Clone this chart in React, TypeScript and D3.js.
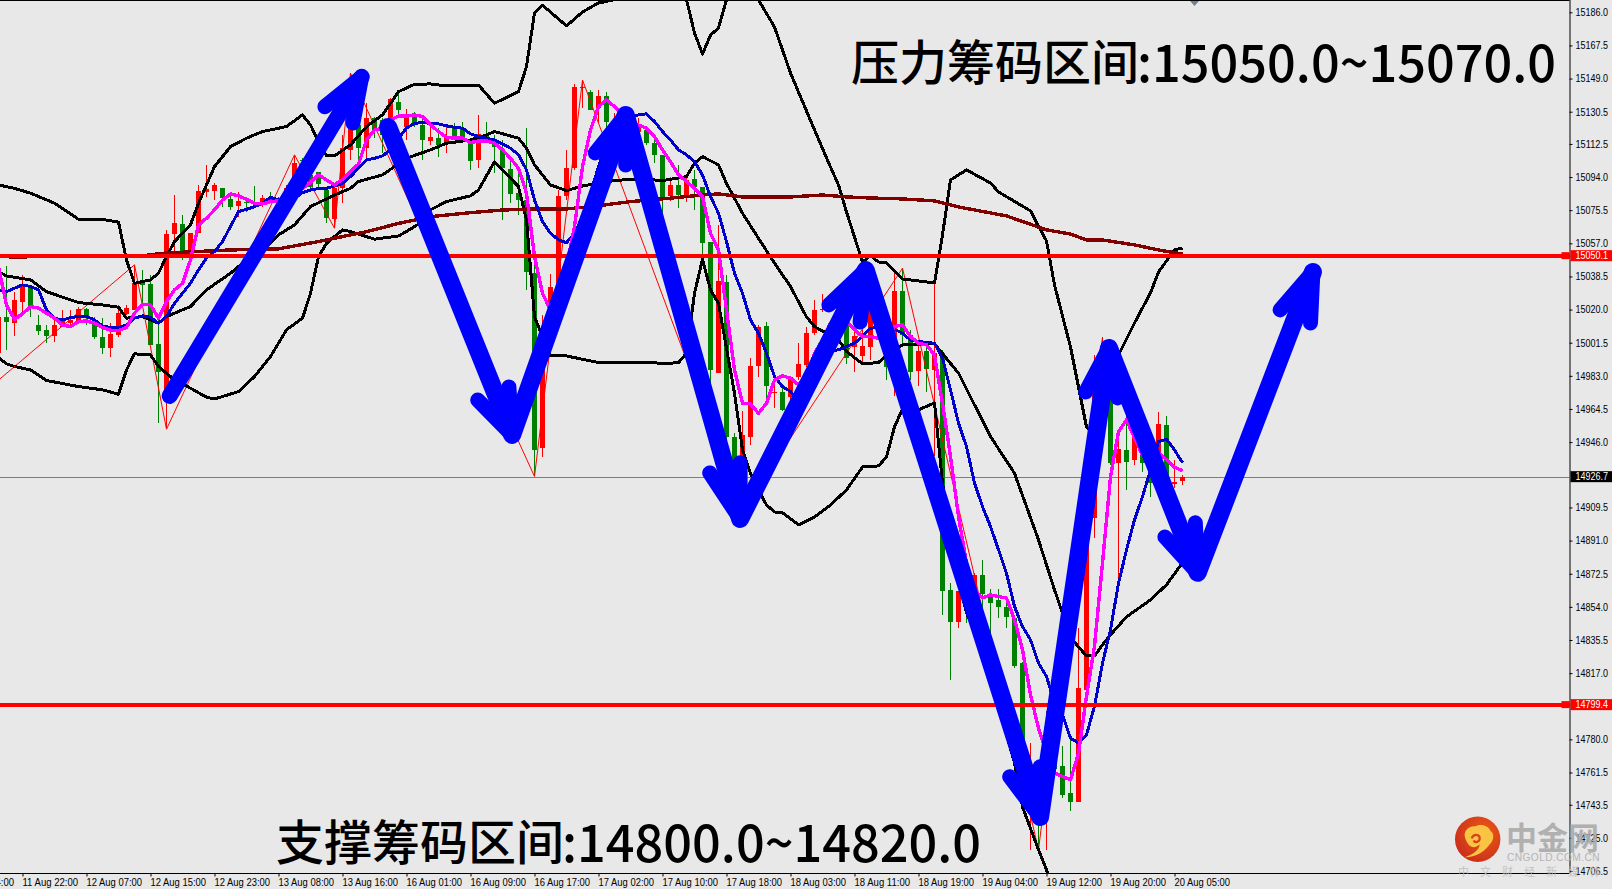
import { useEffect, useRef } from 'react';
import * as d3 from 'd3';

const WIDTH = 1612;
const HEIGHT = 889;
const PLOT_RIGHT = 1569.5;
const PLOT_BOTTOM = 873;

// candles, first one is bar -1 (half cut by the left edge)
const FIRST_BAR = -1;
const opens = [14995.5,
  15015.7,15012.4,15024.3,15032.5,15011.4,15008.7,15005.3,15010.5,15012.4,15013.3,
  15020.2,15013.3,15004.9,14998.4,15005.9,15017.6,15019.8,15035.6,15034.3,15000.8,
  14973.3,15062.3,15067.8,15051.8,15062.6,15085.9,15086.4,15087.7,15081.8,15077.9,
  15080.3,15080.3,15079.4,15082.7,15081.2,15080.3,15092.4,15103.6,15095.2,15097,
  15086.8,15070.4,15087.7,15109.2,15123.1,15110.1,15126.8,15125.9,15124,15136.1,
  15122.2,15128.7,15123.1,15114.2,15115.7,15112.9,15121.3,15121.3,15112.9,15103.6,
  15117.5,15114.7,15109.2,15098.4,15085.3,15081.2,15040.3,14942.6,14999.4,15032.9,
  15083.5,15098.9,15143.6,15141.4,15132.4,15139.3,15124,15124,15121,15119.4,
  15120.3,15112.9,15106.4,15083.5,15089.6,15084,15092.8,15088.7,15057.6,14984.8,
  15035.6,14949.1,14937.9,14949.1,14988.6,15010.9,14973.3,14974.2,14971.4,14982.6,
  14989.1,15006.8,15019.5,15019.8,15022.6,15012.4,14999,14994.2,14999,15019.8,
  15006.8,14987.3,15030.1,15005.9,14985.8,14997.1,14986.3,14995.6,14863.5,14845.3,
  14871.9,14859.8,14871.9,14860.7,14857.6,14853.8,14847.7,14822.6,14738.8,14761.2,
  14738.8,14773.3,14765.3,14750,14744.8,14807.7,14903.7,14977,14975,14934.2,
  14941.6,14936.1,14938.8,14935,14934.2,14955.6,14922.7,14924];
const closes = [15016,
  15013.1,15025.4,15034.3,15020.8,15008.3,15005.3,15011.4,15014.2,15014.2,15020.2,
  15015.2,15004.9,14998.4,15006.4,15018,15021.1,15034.7,15033.8,15000,14985.4,
  15062.3,15068.2,15052.4,15063,15086.3,15087.2,15089.6,15082.2,15077.5,15080.7,
  15079.8,15079.9,15082.2,15081.2,15077.5,15088.1,15101.7,15103,15088.7,15090.2,
  15071,15087.7,15110.1,15121.3,15110.1,15126.8,15120.3,15117.5,15137.4,15131.5,
  15127.4,15123.1,15114.7,15116.2,15112,15116.2,15116.2,15115.7,15103.2,15118.1,
  15114.7,15111,15098.9,15084.6,15081.2,15041.2,14941.7,15006.8,15032.5,15083.5,
  15098.9,15144.1,15144.1,15131.5,15139.3,15125,15126,15121,15117,15122.2,
  15112.9,15106.4,15083.1,15089.6,15084,15092.4,15088.3,15057.1,14986.3,15036.2,
  14949.1,14926.8,14950,14988.6,15010.5,14977.4,14974.2,14964,14982.6,14989.7,
  15006.8,15019.8,15020.2,15024.5,15015.7,14992.9,15005,14999.4,15025,15010.5,
  14987.8,15030.6,15005.9,14985.4,14996.6,14986.7,14995.6,14863.1,14845.3,14862.6,
  14852.3,14871.9,14861.3,14856.4,14853.8,14848.2,14821.1,14779.8,14751.8,14735.1,
  14786.8,14763.4,14749.1,14745.3,14808.6,14893.2,14980.7,14997.5,14934.2,14942.2,
  14935.1,14949.5,14934.2,14923,14956.2,14922,14923.6,14926.7];
const highs = [15018,
  15044.4,15030,15039.4,15032.5,15017,15011.4,15016.1,15019.8,15019.8,15021.7,
  15020.8,15016.1,15015.2,15012.4,15022.6,15022.6,15045,15042.2,15039.4,15016.1,
  15064.5,15084,15072.9,15063,15089.6,15100.8,15090.5,15087.7,15085,15085.9,
  15081.2,15089,15084,15085.9,15083.1,15089.6,15106.4,15104.5,15096.1,15097,
  15088.7,15087.7,15117.5,15152,15124,15135.2,15127.8,15126.8,15138,15140.8,
  15131.9,15130.6,15128.7,15124,15121.3,15122.2,15124,15125,15115.7,15128.7,
  15125,15117.5,15114.7,15103.6,15098,15121.3,15045.9,15017,15039.9,15086.8,
  15109.2,15146,15148.2,15142.6,15142.6,15141.7,15129.6,15127,15124,15127,
  15122.6,15117.5,15106.4,15094.3,15100.8,15094.3,15098,15088.7,15058,15067.3,
  15039.4,14951,14963.1,14992.8,15011.4,15013.3,14979.8,14976.1,14982.6,15001.2,
  15010.2,15025.4,15028.6,15027.3,15025.4,15014.3,15008.7,15011.5,15029.1,15023.6,
  15010.5,15042.5,15043.1,15008.7,15001.2,15001.2,15035.7,14997.5,14867.2,14862.6,
  14878,14873,14880.3,14863.9,14863.9,14858.9,14848.2,14823,14777.9,14765,
  14795.6,14779.8,14776.4,14781.6,14842.3,14895,14994.7,15004.6,14978,14952.8,
  14986.3,14955,14950,14945,14962.7,14960.6,14936.1,14927.7];
const lows = [14994,
  14997.5,15005.3,15018,15016.1,15005.9,15001.2,15002.1,15010.5,15010.5,15012.4,
  15011.4,15003.4,14995.3,14993.4,15004.9,15017,15019.8,15022.6,15000,14956.9,
  14953.2,15049.6,15047.7,15051.5,15062.6,15083.1,15081.2,15077.5,15075.7,15071.9,
  15074.7,15079.4,15077.5,15080.3,15076.6,15079.4,15090.5,15099.8,15087.7,15087.7,
  15068.2,15065.4,15079.4,15103.6,15103.6,15103.6,15115.7,15107.3,15107.3,15127.8,
  15114.7,15122.2,15103.6,15112,15105.4,15107.7,15114.7,15114.7,15098,15098.9,
  15112.9,15096.1,15070,15079.4,15072.9,15031,14926.8,14937.9,14998,15029.1,
  15081.2,15098,15132.4,15131.5,15124,15120.3,15123,15118,15113,15118,
  15112,15101.7,15066.4,15080.7,15076.6,15080.3,15075.7,15049.6,14977,14984.4,
  14943.5,14925,14907.6,14944.4,14982.6,14970.5,14964.9,14963.1,14967.7,14980.7,
  14988.2,15005.9,15018.9,15018.9,15014.3,14989.7,14985.4,14991,14991.9,15008.7,
  14980.8,14971.8,15001.2,14980.8,14977.4,14974.2,14938,14849.6,14813,14842.1,
  14845,14855,14846.8,14839.3,14847.7,14842.1,14819.8,14775,14718.4,14718.4,
  14718.4,14761.2,14747.2,14739.8,14744.8,14807,14892.5,14972,14933,14863.5,
  14919.3,14933.3,14929.5,14915.6,14928,14919.3,14920.6,14922];

// moving averages, one value per candle
const fastMa = [15044,
  15022.4,15014.6,15017.6,15021.7,15020.8,15018,15015.2,15011.4,15010.5,15013.3,
  15013.7,15012.4,15010,15008.5,15008.3,15010,15018,15023,15022.6,15015.2,
  15024.5,15031,15034.7,15047.7,15067.3,15071,15075.7,15081.2,15084.6,15083.5,
  15081.6,15079.4,15079,15080.3,15080.7,15083.1,15085.9,15087.7,15090.9,15095.2,
  15092.4,15089.6,15092.8,15097,15101.3,15114.7,15120.3,15121.3,15125.9,15128.1,
  15128.1,15128.7,15127.8,15123.1,15119.4,15116.2,15115.7,15115.7,15113.2,15114.2,
  15114.2,15112.9,15109.2,15104.5,15098.9,15085,15049.6,15029.1,15019.8,15029.1,
  15044,15066.4,15099.8,15120.3,15133.3,15137.1,15133.3,15128.7,15125,15123.1,
  15121.3,15116.6,15109.2,15102.6,15095.2,15091.5,15087.7,15083.1,15062.6,15053.3,
  15019.8,14986.3,14967.7,14967.3,14962.1,14967.7,14980.7,14983,14981.7,14978,
  14982.6,14995.6,15003,15012.4,15015.2,15013.3,15008.7,15005,15005,15004,
  15003,15010.5,15011.5,15005,15001.2,15000.3,14994.7,14967.7,14938,14904.5,
  14878.4,14863.5,14858.9,14860.7,14859.8,14858.9,14846.8,14830,14804.9,14786.3,
  14772.3,14761.2,14759.3,14757.4,14772.3,14804,14832.2,14878.5,14926.6,14951.8,
  14958.4,14948.3,14938.8,14937,14940.1,14936.1,14932,14930];
const slowMa = [15031,
  15030,15031.9,15033.8,15032.9,15031,15019.8,15015.2,15014.2,15015.5,15016.1,
  15016.1,15014.2,15010.9,15010,15010,15011.4,15015.2,15016.5,15015.7,15012.4,
  15016.1,15023.5,15029.1,15034.7,15042.2,15048.7,15052.4,15058,15066.4,15074.7,
  15076,15077.5,15079.4,15082.7,15081.2,15080.3,15082.2,15085.3,15086.8,15087.6,
  15087.7,15089,15090.5,15094.3,15098.9,15103.6,15104.5,15105.8,15109.2,15115.7,
  15121.3,15124,15124.4,15124,15123.7,15122.6,15121.8,15121.3,15118.1,15116.6,
  15115.7,15114.7,15112.5,15110.1,15106.4,15098,15081.2,15069.1,15062.6,15058.9,
  15057.4,15062.6,15071.9,15085,15099.8,15112.9,15122.2,15127.8,15127.8,15128.7,
  15129.3,15125,15119.4,15114.7,15109.2,15106.4,15102.6,15095.2,15083.1,15073.8,
  15058,15040.3,15029.1,15014.2,15006.8,14995.6,14982.6,14977,14974.2,14969.6,
  14980.7,14986.3,14991.9,14997.1,14997.5,14999.4,15001.2,15005,15009.6,15010,
  15009.6,15009,15006.8,15003,15002.2,15001.6,15001.2,14992.9,14975.2,14956.6,
  14943.5,14923.1,14910,14898.9,14885.9,14872.8,14854.2,14843,14835.6,14822.6,
  14815.1,14800.2,14793.7,14780.7,14777.9,14782.6,14798.4,14822.6,14841.2,14867.2,
  14885.8,14902.6,14915.6,14930.5,14946.3,14947.6,14941.6,14934.5];
const longMaBars = [-1,1,17,20,28,34,39,45,49,53,58,62,66,70,74,78,83,87,89,92,98,102,105,108,112,116,119,125,130,133,135,137,141,144,147];
const longMa = [15049.6,15049.4,15050.1,15051.6,15053.3,15053.9,15058,15063.5,15068.1,15071.9,15074.1,15075.6,15076.2,15076.2,15078,15080.3,15082.2,15084,15084.6,15082.9,15082.9,15084,15082.9,15082.3,15081.8,15080.7,15077.3,15072.3,15064.5,15062.2,15058.9,15058.9,15056.1,15053.3,15051];

// bollinger bands
const upperBars = [-1,1,3,6,9,12,14,15,16,18,19,20,21,23,24,25,26,28,30,32,35,37,38,39,40,41,43,45,47,49,51,53,55,59,61,64,65,66,67,70,72,74,76,80,84,85,86,87,88,89,90,91,93,94,96,98,101,103,104,105,106,107,108,109,110,112,116,117,118,120,123,124,128,130,131,133,134,135,136,137,138,139,141,143,144,146,147];
const upperBand = [15089.6,15087.7,15085,15079.4,15070.4,15070.4,15068.8,15047.7,15034.7,15036.6,15040.3,15049.6,15058,15067.3,15079.4,15089.6,15099.8,15111,15115.7,15119.4,15122.2,15128.7,15123.1,15113.8,15105.8,15105.8,15112,15122.2,15128.7,15141.7,15145.8,15146,15144.9,15145.4,15135.2,15141.7,15155.7,15185.6,15190,15178.4,15186.2,15191.2,15193,15210,15210,15193,15174.5,15162.7,15173.3,15177.2,15192.9,15209.6,15204,15192.9,15177.8,15152.1,15120.3,15099.6,15089.6,15074.5,15060.5,15046.6,15050,15046.6,15046,15037.1,15034.9,15061.7,15092.4,15098,15090.7,15085.7,15075.1,15058.3,15033.8,14999.1,14976.8,14954.5,14951.1,14961.2,14977.9,14994.7,15012.5,15029.3,15041,15053.3,15054.4];
const midBars = [-1,0,3,5,9,12,14,15,17,19,20,23,25,28,29,33,34,36,38,41,43,44,47,50,53,55,58,60,61,64,65,66,68,70,72,75,78,80,82,85,86,87,89,90,92,94,96,98,100,101,104,105,107,109,110,112,116,119,123,126,129,131,133,134,135,136,137,138,140,143,145,147];
const midBand = [15041.2,15038.8,15036.6,15030,15023.9,15022.6,15021.3,15015.2,15016.1,15012.4,15016.1,15021.7,15031,15040.3,15044,15057,15061.7,15067.3,15077.5,15084,15087.7,15091.5,15095.2,15104.5,15109.2,15112.9,15114.7,15117.5,15119.4,15115.7,15110.1,15100.8,15089.6,15086.4,15089,15091.5,15092.8,15092.8,15092,15094.3,15101.7,15105.4,15100.8,15090.5,15073.8,15059.8,15045.9,15032.9,15015.9,15010.5,15003.1,14996.6,14989.7,14990.4,14994.7,15000.3,15000.9,14984.5,14949.1,14928.6,14891.4,14863.5,14837.5,14831.6,14826.6,14826.6,14832.8,14838.4,14848.4,14857.9,14866.3,14878.6];
const lowerBars = [-1,0,1,3,5,9,12,14,15,16,18,19,21,23,25,26,29,31,33,35,37,38,39,40,42,43,46,49,50,52,53,55,58,59,61,64,65,66,67,68,70,74,81,82,84,85,86,87,88,89,91,92,93,94,95,96,97,99,101,103,105,107,109,110,111,112,114,116,117,119,120,122,126,127,129,130,131];
const lowerBand = [14993.2,14989.7,14988.2,14986.3,14980.4,14977,14975.2,14972.7,14986.3,14995.3,14994.7,14988.2,14980.7,14976.1,14971.1,14970.1,14974.2,14982.6,14993.8,15008.7,15015.2,15029.1,15049.6,15057,15064.5,15063.6,15059.3,15061.1,15063.6,15069.1,15075.7,15080.3,15083.5,15086.8,15102.6,15088.7,15070.1,15016.1,15004.9,14994.1,14994.1,14990.4,14990.4,14989.7,14990.4,14995.6,15029.1,15048.1,15031,15023.5,14973.3,14941.7,14928.6,14919.3,14910.9,14907,14906.5,14899.8,14904.2,14910.9,14919.3,14932.1,14932.7,14937.7,14954.5,14964.5,14964,14967.9,14923.2,14869,14850.6,14829.9,14766.9,14742.3,14718.3,14707.2,14690.4];

// thin zigzag through the swing highs and lows
const zigzagBars = [-2,16,20,36,41,43,66,72,92,112,129,137];
const zigzagPrices = [14976.8,15045,14953.2,15106.4,15065.4,15152,14926.8,15148.2,14907.6,15043.1,14718.4,15004.6];

// hand drawn arrows: one single arrow, then the long chain
const firstArrowBars = [20.4,44.4];
const firstArrowPrices = [14971.8,15150];
const firstArrowBarbBars = [39.8,43.3];
const firstArrowBarbPrices = [15133.3,15124.2];
const chainBars = [47.7,63.2,77.4,91.7,107.4,129.2,137.8,148.9,163.3];
const chainPrices = [15122,14950,15128.7,14903.1,15042.1,14736.7,14998.6,14873,15041];
const barbLeftBars = [58.9,73.6,87.9,102.8,125.4,134.9,144.8,159.2];
const barbLeftPrices = [14969.5,15107.5,14928.8,15022.6,14759.1,14974,14893,15019.8];
const barbRightBars = [62.8,77.4,91.7,106.7,129.2,138.9,148.6,163];
const barbRightPrices = [14976.8,15100.8,14934.4,15013.1,14764.7,14970.7,14900.9,15012.5];

// axes
const priceTicks = [15186,15167.5,15149,15130.5,15112.5,15094,15075.5,15057,15038.5,15020,15001.5,14983,14964.5,14946,14909.5,14891,14872.5,14854,14835.5,14817,14780,14761.5,14743.5,14725,14706.5];
const timeBars = [-6,2,10,18,26,34,42,50,58,66,74,82,90,98,106,114,122,130,138,146];
const timeLabels = ['11 Aug 14:00','11 Aug 22:00','12 Aug 07:00','12 Aug 15:00','12 Aug 23:00','13 Aug 08:00','13 Aug 16:00','16 Aug 01:00','16 Aug 09:00','16 Aug 17:00','17 Aug 02:00','17 Aug 10:00','17 Aug 18:00','18 Aug 03:00','18 Aug 11:00','18 Aug 19:00','19 Aug 04:00','19 Aug 12:00','19 Aug 20:00','20 Aug 05:00'];

const RESISTANCE = 15050.1;
const SUPPORT = 14799.4;
const LAST_PRICE = 14926.7;

const UP = '#ff0000';
const DOWN = '#008000';
const AXIS_FONT = '"Liberation Sans", sans-serif';
const CJK_FONT = '"Noto Sans CJK SC", sans-serif';

export default function App(): JSX.Element {
  const svgRef = useRef<SVGSVGElement>(null);

  useEffect(() => {
    if (!svgRef.current) return;
    const svg = d3.select(svgRef.current);
    svg.selectAll('*').remove();

    const x = d3.scaleLinear().domain([0, 1]).range([6.5, 14.5]);
    const y = d3.scaleLinear().domain([14706.5, 15186]).range([871, 12.3]);

    const defs = svg.append('defs');
    defs.append('clipPath').attr('id', 'plot')
      .append('rect').attr('width', PLOT_RIGHT).attr('height', PLOT_BOTTOM);
    const grad = defs.append('radialGradient').attr('id', 'logoFill').attr('cx', '65%').attr('cy', '35%').attr('r', '75%');
    grad.append('stop').attr('offset', '0%').attr('stop-color', '#ec5a14');
    grad.append('stop').attr('offset', '100%').attr('stop-color', '#c92c1c');

    svg.append('rect').attr('width', WIDTH).attr('height', HEIGHT).attr('fill', '#e8e8e8');

    const plot = svg.append('g').attr('clip-path', 'url(#plot)');

    // last price line goes under everything
    plot.append('line')
      .attr('x1', 0).attr('x2', PLOT_RIGHT)
      .attr('y1', Math.round(y(LAST_PRICE)) + 0.5).attr('y2', Math.round(y(LAST_PRICE)) + 0.5)
      .attr('stroke', '#708090').attr('stroke-width', 1);

    // Candles
    const barIndex = opens.map((_, i) => i + FIRST_BAR);
    const candles = plot.append('g').selectAll('g').data(barIndex).enter().append('g')
      .attr('shape-rendering', 'crispEdges');
    const colorOf = (b: number): string => {
      const i = b - FIRST_BAR;
      return closes[i] >= opens[i] ? UP : DOWN;
    };
    candles.append('line')
      .attr('x1', b => x(b)).attr('x2', b => x(b))
      .attr('y1', b => y(highs[b - FIRST_BAR])).attr('y2', b => y(lows[b - FIRST_BAR]))
      .attr('stroke', colorOf).attr('stroke-width', 1);
    candles.append('rect')
      .attr('x', b => x(b) - 2.5).attr('width', 5)
      .attr('y', b => y(Math.max(opens[b - FIRST_BAR], closes[b - FIRST_BAR])))
      .attr('height', b => Math.max(1, Math.abs(y(opens[b - FIRST_BAR]) - y(closes[b - FIRST_BAR]))))
      .attr('fill', colorOf);

    const drawLine = (bars: number[], values: number[], color: string, width: number): void => {
      const path = d3.line<number>().x(b => x(b)).y((_, i) => y(values[i]));
      plot.append('path')
        .attr('d', path(bars))
        .attr('fill', 'none')
        .attr('stroke', color)
        .attr('stroke-width', width)
        .attr('stroke-linejoin', 'round')
        .attr('shape-rendering', width > 1 ? 'crispEdges' : 'auto');
    };

    drawLine(zigzagBars, zigzagPrices, '#ff0000', 1);
    drawLine(upperBars, upperBand, '#000000', 3);
    drawLine(midBars, midBand, '#000000', 3);
    drawLine(lowerBars, lowerBand, '#000000', 3);
    drawLine(longMaBars, longMa, '#800000', 3.4);
    drawLine(barIndex, slowMa, '#0000cd', 3);
    drawLine(barIndex, fastMa, '#ff00ff', 3.4);

    // Support and resistance
    [RESISTANCE, SUPPORT].forEach(level => {
      plot.append('line')
        .attr('x1', 0).attr('x2', PLOT_RIGHT)
        .attr('y1', y(level)).attr('y2', y(level))
        .attr('stroke', '#ff0000').attr('stroke-width', 4)
        .attr('shape-rendering', 'crispEdges');
      plot.append('rect')
        .attr('x', PLOT_RIGHT - 8).attr('y', y(level) - 3.5)
        .attr('width', 8).attr('height', 7).attr('fill', '#ff0000');
    });

    // Blue arrows on top
    const drawArrow = (bars: number[], prices: number[], width: number): void => {
      const path = d3.line<number>().x(b => x(b)).y((_, i) => y(prices[i]));
      plot.append('path')
        .attr('d', path(bars))
        .attr('fill', 'none')
        .attr('stroke', '#0000ff')
        .attr('stroke-width', width)
        .attr('stroke-linecap', 'round')
        .attr('stroke-linejoin', 'round');
    };
    const tipIndex = d3.range(1, chainBars.length);
    drawArrow(chainBars, chainPrices, 18);
    drawArrow(firstArrowBars, firstArrowPrices, 16);
    firstArrowBarbBars.forEach((b, i) => {
      drawArrow([b, firstArrowBars[1]], [firstArrowBarbPrices[i], firstArrowPrices[1]], 15);
    });
    tipIndex.forEach((t, i) => {
      drawArrow([barbLeftBars[i], chainBars[t]], [barbLeftPrices[i], chainPrices[t]], 15);
      drawArrow([barbRightBars[i], chainBars[t]], [barbRightPrices[i], chainPrices[t]], 15);
    });

    // Price axis
    const priceAxis = svg.append('g')
      .attr('transform', `translate(${PLOT_RIGHT},0)`)
      .call(d3.axisRight(y).tickValues(priceTicks).tickFormat(d3.format('.1f')).tickSize(3).tickPadding(3));
    priceAxis.select('.domain').attr('d', `M0.5,0V${PLOT_BOTTOM}`).attr('stroke', '#000');
    priceAxis.selectAll('text')
      .attr('textLength', 32.5).attr('lengthAdjust', 'spacingAndGlyphs')
      .style('font-family', AXIS_FONT).style('font-size', '10.4px').style('fill', '#000');

    // Time axis
    const timeAxis = svg.append('g')
      .attr('transform', `translate(0,${PLOT_BOTTOM + 0.5})`)
      .call(d3.axisBottom(x).tickValues(timeBars)
        .tickFormat((_, i) => timeLabels[i]).tickSize(3).tickPadding(2));
    timeAxis.select('.domain').attr('d', `M0,0H${PLOT_RIGHT}`).attr('stroke', '#000');
    timeAxis.selectAll('text')
      .attr('text-anchor', 'start').attr('x', -0.5)
      .attr('textLength', 55.5).attr('lengthAdjust', 'spacingAndGlyphs')
      .style('font-family', AXIS_FONT).style('font-size', '10.4px').style('fill', '#000');

    // Top frame and the chart shift marker
    svg.append('line').attr('x1', 0).attr('x2', PLOT_RIGHT).attr('y1', 0.5).attr('y2', 0.5).attr('stroke', '#000');
    svg.append('path').attr('d', d3.line()([[1190, 1], [1199, 1], [1194.5, 6]]) + 'Z').attr('fill', '#708090');

    // Price labels
    const priceLabel = (price: number, fill: string): void => {
      const cy = y(price);
      svg.append('rect').attr('x', PLOT_RIGHT + 1).attr('y', cy - 5.5)
        .attr('width', WIDTH - PLOT_RIGHT).attr('height', 11).attr('fill', fill);
      svg.append('text').attr('x', 1575.5).attr('y', cy + 3.7)
        .attr('fill', '#fff').style('font-family', AXIS_FONT).style('font-size', '10.4px')
        .attr('textLength', 32.5).attr('lengthAdjust', 'spacingAndGlyphs')
        .text(price.toFixed(1));
    };
    priceLabel(RESISTANCE, '#ff0000');
    priceLabel(SUPPORT, '#ff0000');
    priceLabel(LAST_PRICE, '#000000');

    // Zone captions
    const caption = (cjk: string, digits: string, left: number, baseline: number): void => {
      svg.append('text').attr('x', left).attr('y', baseline - 2)
        .attr('fill', '#000').style('font-family', CJK_FONT).style('font-weight', 500).style('font-size', '48px')
        .text(cjk);
      svg.append('text').attr('x', left + 286).attr('y', baseline)
        .attr('fill', '#000').style('font-family', CJK_FONT).style('font-weight', 500).style('font-size', '52px')
        .attr('textLength', 419).attr('lengthAdjust', 'spacingAndGlyphs')
        .text(digits);
    };
    caption('压力筹码区间', ':15050.0~15070.0', 851, 82);
    caption('支撑筹码区间', ':14800.0~14820.0', 276, 862);

    // Watermark
    const logo = svg.append('g').attr('transform', 'translate(1477.7,839.3)');
    logo.append('circle').attr('r', 22.7).attr('fill', 'url(#logoFill)');
    logo.append('path')
      .attr('d', 'M-13,-3C-14,-10 -7,-14 -2,-13C3,-16 11,-14 13,-8C17,-6 16,2 12,5C8,11 0,18 -13,18C-4,15 2,10 2,5C-3,10 -10,9 -13,-3Z')
      .attr('fill', '#f9c443');
    logo.append('path')
      .attr('d', 'M-6,-1C-4,-6 2,-5 2,-1C2,3 -3,4 -4,1')
      .attr('fill', 'none').attr('stroke', '#d8431a').attr('stroke-width', 2.2);
    svg.append('text').attr('x', 1506).attr('y', 849)
      .attr('fill', '#a9a9a9').attr('fill-opacity', 0.9)
      .style('font-family', CJK_FONT).style('font-weight', 700).style('font-size', '31px')
      .text('中金网');
    svg.append('text').attr('x', 1507).attr('y', 861)
      .attr('fill', '#b4b4b4')
      .style('font-family', AXIS_FONT).style('font-size', '10.2px').style('letter-spacing', '0.4px')
      .text('CNGOLD.COM.CN');
    svg.append('text').attr('x', 1458).attr('y', 876)
      .attr('fill', '#bdbdbd').attr('fill-opacity', 0.9)
      .style('font-family', CJK_FONT).style('font-size', '11px').style('letter-spacing', '11px')
      .text('中文财经新媒体');
  }, []);

  return (
    <svg
      ref={svgRef}
      width={WIDTH}
      height={HEIGHT}
      style={{ position: 'fixed', left: 0, top: 0, display: 'block' }}
    />
  );
}
